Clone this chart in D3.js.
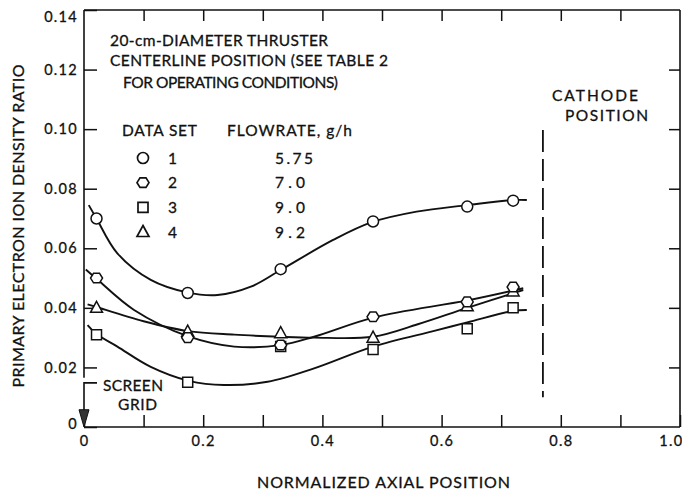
<!DOCTYPE html>
<html>
<head>
<meta charset="utf-8">
<script src="https://cdn.jsdelivr.net/npm/d3@7"></script>
<style>
  body { margin: 0; background: #fff; }
  text { font-family: Lato, "DejaVu Sans", sans-serif; fill: #111; stroke: #111; stroke-width: 0.3; }
</style>
</head>
<body>
<svg id="chart" width="682" height="490"></svg>
<script>
// Axis ticks and labels
const xTickValues = [0, 0.1, 0.2, 0.3, 0.4, 0.5, 0.6, 0.7, 0.8, 0.9, 1.0];
const xTickLabels = ["0", "", "0.2", "", "0.4", "", "0.6", "", "0.8", "", "1.0"];
const yTickValues = [0, 0.02, 0.04, 0.06, 0.08, 0.10, 0.12, 0.14];
const yTickLabels = ["0", "0.02", "0.04", "0.06", "0.08", "0.10", "0.12", "0.14"];

// Legend
const dataSets = ["1", "2", "3", "4"];
const flowrates = ["5.75", "7.0", "9.0", "9.2"];
const markers = ["circle", "hexagon", "square", "triangle"];

// Measured points: normalized axial position vs. primary electron density ratio
const positions = [0.021, 0.174, 0.330, 0.485, 0.643, 0.720];
const set1 = [0.070, 0.045, 0.053, 0.069, 0.074, 0.076];
const set2 = [0.050, 0.030, 0.0275, 0.037, 0.042, 0.047];
const set3 = [0.031, 0.015, 0.027, 0.026, 0.033, 0.040];
const set4 = [0.040, 0.032, 0.0315, 0.030, 0.0405, 0.0455];

// Faired curves through each data set
const fit1 = [[0.008, 0.0745], [0.021, 0.0700], [0.056, 0.0583], [0.112, 0.0494], [0.173, 0.0452],
              [0.224, 0.0443], [0.280, 0.0471], [0.330, 0.0527], [0.418, 0.0628], [0.482, 0.0687],
              [0.558, 0.0723], [0.643, 0.0745], [0.719, 0.0762], [0.743, 0.0762]];
const fit2 = [[0.003, 0.0529], [0.022, 0.0496], [0.084, 0.0393], [0.174, 0.0305], [0.252, 0.0270],
              [0.330, 0.0275], [0.386, 0.0303], [0.487, 0.0368], [0.643, 0.0425], [0.737, 0.0466]];
const fit3 = [[0.006, 0.0342], [0.021, 0.0312], [0.056, 0.0270], [0.112, 0.0202], [0.176, 0.0155],
              [0.235, 0.0141], [0.308, 0.0152], [0.386, 0.0197], [0.485, 0.0270], [0.586, 0.0322],
              [0.643, 0.0351], [0.720, 0.0390], [0.743, 0.0393]];
const fit4 = [[0.006, 0.0412], [0.022, 0.0402], [0.100, 0.0355], [0.174, 0.0322], [0.252, 0.0310],
              [0.330, 0.0303], [0.386, 0.0300], [0.485, 0.0303], [0.560, 0.0345], [0.643, 0.0400],
              [0.737, 0.0460]];

const cathodePosition = 0.77;

const svg = d3.select("#chart");
const x = d3.scaleLinear().domain([0, 1]).range([84, 680]);
const y = d3.scaleLinear().domain([0, 0.14]).range([427, 10]);
const ink = "#111";

// Text helper: a label stretched to a set run length
function label(str, tx, ty, width, opts = {}) {
  const t = svg.append("text").attr("x", tx).attr("y", ty)
    .attr("font-size", opts.size || 15.5)
    .attr("text-anchor", opts.anchor || "start")
    .text(str);
  if (width) t.attr("textLength", width).attr("lengthAdjust", "spacing");
  if (opts.transform) t.attr("transform", opts.transform);
  return t;
}

// Tick marks on all four sides, pointing inward
const axisB = svg.append("g").attr("transform", `translate(0,${y(0)})`)
  .call(d3.axisBottom(x).tickValues(xTickValues).tickSize(-12).tickSizeOuter(0)
    .tickPadding(9).tickFormat((d, i) => xTickLabels[i]));
const axisT = svg.append("g").attr("transform", `translate(0,${y(0.14)})`)
  .call(d3.axisTop(x).tickValues(xTickValues.slice(1, -1)).tickSize(-11).tickSizeOuter(0).tickFormat(""));
const axisL = svg.append("g").attr("transform", `translate(${x(0)},0)`)
  .call(d3.axisLeft(y).tickValues(yTickValues).tickSize(-13).tickSizeOuter(0)
    .tickPadding(6).tickFormat((d, i) => yTickLabels[i]));
const axisR = svg.append("g").attr("transform", `translate(${x(1)},0)`)
  .call(d3.axisRight(y).tickValues(yTickValues.slice(1, -1)).tickSize(-11).tickSizeOuter(0).tickFormat(""));

[axisB, axisT, axisL, axisR].forEach(g => {
  g.select(".domain").remove();
  g.selectAll(".tick line").attr("stroke", ink).attr("stroke-width", 1.5);
  g.selectAll(".tick text").attr("font-size", 14.5).attr("letter-spacing", 1.3)
    .attr("font-family", "Lato, 'DejaVu Sans', sans-serif").attr("fill", ink);
});
// keep the last x label inside the page; top y label sits just under the frame
axisB.selectAll(".tick text").filter(d => d === 1).attr("text-anchor", "end").attr("dx", 3);
axisL.selectAll(".tick text").filter(d => d === 0.14).attr("dy", "0.32em").attr("y", 7);
axisL.selectAll(".tick text").filter(d => d === 0).attr("y", -3);

// Plot frame; the left edge stops short of the screen-grid marker
const frame = svg.append("g").attr("stroke", ink).attr("stroke-width", 1.6).attr("fill", "none");
frame.append("line").attr("x1", x(0)).attr("x2", x(1)).attr("y1", y(0.14)).attr("y2", y(0.14));
frame.append("line").attr("x1", x(1)).attr("x2", x(1)).attr("y1", y(0.14)).attr("y2", y(0));
frame.append("line").attr("x1", x(0)).attr("x2", x(1)).attr("y1", y(0)).attr("y2", y(0));
frame.append("line").attr("x1", x(0)).attr("x2", x(0)).attr("y1", y(0.14)).attr("y2", y(0.0165));

// Screen grid marker
svg.append("path").attr("fill", "none").attr("stroke", ink).attr("stroke-width", 1.6)
  .attr("d", `M${x(0) + 13},${y(0.0148)} H${x(0)} V${y(0.005)}`);
svg.append("path").attr("fill", "#333").attr("stroke", ink).attr("stroke-width", 1)
  .attr("d", `M${x(0) - 5},${y(0.0058)} L${x(0) + 5},${y(0.0058)} L${x(0)},${y(0)} Z`);
label("SCREEN", 103, 391, 60);
label("GRID", 118, 410, 39);

// Cathode position
svg.append("line").attr("x1", x(cathodePosition)).attr("x2", x(cathodePosition))
  .attr("y1", y(0.0997)).attr("y2", y(0.0100))
  .attr("stroke", ink).attr("stroke-width", 1.8).attr("stroke-dasharray", "22,7");
label("CATHODE", 552, 101, 86);
label("POSITION", 565, 121, 83);

// Notes
label("20-cm-DIAMETER THRUSTER", 110, 46, 218);
label("CENTERLINE POSITION (SEE TABLE 2", 110, 66, 278);
label("FOR OPERATING CONDITIONS)", 123, 88, 215);

// Axis titles
label("NORMALIZED AXIAL POSITION", 257, 488, 253, { size: 16 });
label("PRIMARY ELECTRON ION DENSITY RATIO", 0, 0, 323,
  { size: 16, anchor: "middle", transform: "translate(24,226) rotate(-90)" });

// Marker shapes
function markerPath(type, cx, cy) {
  if (type === "circle") {
    const r = 5.5;
    return `M${cx - r},${cy} a${r},${r} 0 1,0 ${2 * r},0 a${r},${r} 0 1,0 ${-2 * r},0 Z`;
  }
  if (type === "hexagon") {
    const r = 6;
    const pts = d3.range(6).map(k => {
      const a = Math.PI / 3 * k;
      return [cx + r * Math.cos(a), cy + r * 0.92 * Math.sin(a)];
    });
    return "M" + pts.map(p => p.join(",")).join("L") + "Z";
  }
  if (type === "square") {
    const h = 5;
    return `M${cx - h},${cy - h}H${cx + h}V${cy + h}H${cx - h}Z`;
  }
  // triangle
  return `M${cx},${cy - 6.5}L${cx + 6},${cy + 4.5}L${cx - 6},${cy + 4.5}Z`;
}

// Curves
const line = d3.line().x(d => x(d[0])).y(d => y(d[1])).curve(d3.curveCatmullRom.alpha(0.5));
const fits = [fit1, fit2, fit3, fit4];
svg.append("g").selectAll("path").data(fits).join("path")
  .attr("d", line).attr("fill", "none").attr("stroke", ink).attr("stroke-width", 1.9);

// Data points
const sets = [set1, set2, set3, set4];
const drawOrder = [3, 2, 1, 0];
drawOrder.forEach(s => {
  svg.append("g").selectAll("path").data(sets[s]).join("path")
    .attr("d", (v, i) => markerPath(markers[s], x(positions[i]), y(v)))
    .attr("fill", "#fff").attr("stroke", ink).attr("stroke-width", 1.5);
});

// Legend
label("DATA SET", 122, 136, 75);
label("FLOWRATE, g/h", 227, 136, 125);
const rowY = d3.scalePoint().domain(dataSets).range([158, 232]);
const legend = svg.append("g");
dataSets.forEach((ds, i) => {
  const cy = rowY(ds);
  legend.append("path").attr("d", markerPath(markers[i], 143, cy))
    .attr("fill", "#fff").attr("stroke", ink).attr("stroke-width", 1.7);
  label(ds, 168, cy + 5.5, null);
  label(flowrates[i], 275, cy + 5.5, flowrates[i].length > 3 ? 38 : 30);
});
</script>
</body>
</html>
